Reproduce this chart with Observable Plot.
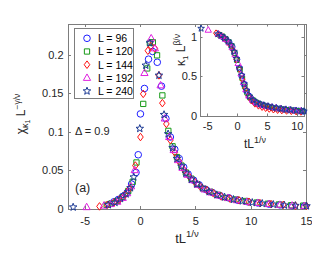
<!DOCTYPE html>
<html><head><meta charset="utf-8">
<script src="https://cdn.jsdelivr.net/npm/d3@7"></script>
<script src="https://cdn.jsdelivr.net/npm/@observablehq/plot@0.6"></script>
<style>
body{margin:0;background:#fff;}
#wrap{position:relative;width:312px;height:259px;}
</style></head><body><div id="wrap"></div>
<script>
// ---------- data ----------
const seriesLabels = ["L = 96", "L = 120", "L = 144", "L = 192", "L = 240"];

// main panel: chi * L^(-gamma/nu) vs t L^(1/nu)
const x96 = [-2.4,-2.0,-1.6,-1.2,-0.8,-0.4,-0.2,0.0,0.36,0.73,1.1,1.52,1.9,2.3,2.7,3.1,3.5,3.9,4.3,4.8,5.3,5.9,6.5,7.2,8.0,8.8,9.7,10.6,11.6,12.6,13.7,14.8];
const y96 = [0.010,0.013,0.017,0.022,0.033,0.048,0.071,0.124,0.157,0.195,0.205,0.191,0.160,0.118,0.094,0.078,0.066,0.055,0.046,0.038,0.032,0.026,0.022,0.018,0.015,0.012,0.010,0.0085,0.007,0.006,0.005,0.0045];
const x120 = [-3.05,-2.6,-2.1,-1.6,-1.1,-0.7,-0.36,0.25,0.61,0.85,1.12,1.5,1.98,2.52,2.9,3.3,3.7,4.1,4.6,5.1,5.7,6.3,7.0,7.8,8.6,9.5,10.5,11.5,12.5,13.6,14.7];
const y120 = [0.006,0.008,0.011,0.016,0.024,0.036,0.061,0.137,0.183,0.216,0.217,0.200,0.148,0.102,0.082,0.068,0.057,0.048,0.040,0.033,0.027,0.023,0.019,0.015,0.013,0.011,0.009,0.0075,0.0065,0.0055,0.005];
const x144 = [-3.7,-3.0,-2.4,-1.9,-1.4,-1.0,-0.46,0.0,0.25,0.67,0.95,1.3,1.67,1.98,2.34,2.7,3.1,3.5,3.95,4.4,4.9,5.4,6.0,6.6,7.3,8.1,8.9,9.8,10.8,11.8,12.9,14.0,15.0];
const y144 = [0.004,0.006,0.009,0.013,0.019,0.027,0.057,0.094,0.150,0.206,0.212,0.209,0.174,0.138,0.111,0.090,0.074,0.062,0.051,0.043,0.036,0.030,0.025,0.021,0.017,0.014,0.012,0.010,0.0082,0.007,0.006,0.005,0.0045];
const x192 = [-4.86,-3.3,-2.7,-2.1,-1.6,-1.2,-0.85,-0.52,0.36,0.97,1.3,1.82,2.2,2.6,3.0,3.4,3.8,4.25,4.7,5.2,5.8,6.4,7.1,7.9,8.7,9.6,10.6,11.6,12.6,13.7,14.8];
const y192 = [0.003,0.005,0.007,0.010,0.015,0.021,0.030,0.051,0.177,0.222,0.209,0.161,0.118,0.094,0.077,0.064,0.054,0.045,0.038,0.032,0.026,0.022,0.018,0.015,0.012,0.010,0.0085,0.007,0.006,0.005,0.0045];
const x240 = [-6.08,-2.9,-2.3,-1.8,-1.3,-0.9,-0.6,-0.06,0.48,0.85,1.67,2.13,2.5,2.9,3.3,3.7,4.1,4.6,5.1,5.6,6.2,6.9,7.6,8.4,9.2,10.1,11.0,12.0,13.0,14.0,15.0];
const y240 = [0.003,0.006,0.009,0.014,0.020,0.028,0.042,0.105,0.187,0.216,0.174,0.123,0.098,0.080,0.066,0.056,0.047,0.039,0.033,0.028,0.023,0.019,0.016,0.013,0.011,0.009,0.0078,0.0065,0.0055,0.005,0.0045];

// inset: kappa_1 * L^(beta/nu) vs t L^(1/nu)
const ix96 = [-2.4,-1.9,-1.4,-0.9,-0.5,-0.1,0.3,0.7,1.1,1.5,1.9,2.4,2.9,3.4,3.9,4.5,5.1,5.7,6.4,7.1,7.8,8.6,9.4,10.2,11.0];
const iy96 = [1.00,0.97,0.935,0.88,0.80,0.72,0.61,0.51,0.41,0.32,0.26,0.215,0.185,0.165,0.15,0.137,0.126,0.116,0.106,0.097,0.090,0.083,0.077,0.071,0.066];
const ix120 = [-3.0,-2.5,-2.0,-1.5,-1.0,-0.5,-0.1,0.4,0.8,1.2,1.6,2.1,2.6,3.1,3.6,4.2,4.8,5.4,6.1,6.8,7.5,8.3,9.1,10.0,10.9];
const iy120 = [1.03,1.01,0.98,0.94,0.89,0.80,0.71,0.59,0.48,0.38,0.30,0.24,0.205,0.178,0.158,0.143,0.130,0.119,0.108,0.099,0.091,0.084,0.078,0.072,0.066];
const ix144 = [-3.6,-3.0,-2.4,-1.8,-1.2,-0.7,-0.2,0.3,0.8,1.3,1.8,2.3,2.9,3.5,4.1,4.7,5.3,6.0,6.7,7.4,8.2,9.0,9.8,10.6];
const iy144 = [1.05,1.03,1.00,0.96,0.90,0.83,0.72,0.60,0.47,0.35,0.26,0.20,0.16,0.135,0.118,0.105,0.095,0.086,0.080,0.075,0.070,0.066,0.062,0.058];
const ix192 = [-4.9,-3.2,-2.6,-2.0,-1.4,-0.9,-0.4,0.1,0.6,1.0,1.4,1.9,2.5,3.1,3.7,4.3,5.0,5.7,6.4,7.2,8.0,8.8,9.7,10.6];
const iy192 = [1.09,1.04,1.01,0.975,0.93,0.87,0.78,0.67,0.54,0.43,0.34,0.26,0.21,0.178,0.156,0.141,0.128,0.117,0.107,0.097,0.089,0.082,0.076,0.070];
const ix240 = [-6.1,-3.3,-2.8,-2.2,-1.6,-1.1,-0.6,-0.2,0.3,0.7,1.1,1.5,2.0,2.6,3.2,3.8,4.4,5.1,5.8,6.5,7.3,8.1,8.9,9.8,10.7,11.1];
const iy240 = [1.11,1.04,1.02,0.99,0.95,0.90,0.82,0.73,0.61,0.52,0.41,0.33,0.255,0.205,0.175,0.155,0.142,0.13,0.118,0.108,0.098,0.09,0.083,0.076,0.07,0.066];

const mainXTicks = [-5, 0, 5, 10, 15];
const mainYTicks = [0, 0.05, 0.1, 0.15, 0.2];
const insetXTicks = [-5, 0, 5, 10];
const insetYTicks = [0, 0.5, 1];

// ---------- styles ----------
const FONT = '"Liberation Sans", Arial, Helvetica, sans-serif';
const AX = "#7d7d7d", TXT = "#262626";
const colors = ["#1f1fff", "#169a16", "#ff1010", "#e020e0", "#1c3a94"];

function mk(fn){ return {draw(ctx, size){ const r = Math.sqrt(size/Math.PI); fn(ctx, r); }}; }
const symCircle = mk((c,r)=>{ c.moveTo(r,0); c.arc(0,0,r,0,2*Math.PI); });
const symSquare = mk((c,r)=>{ const s=0.8*r; c.moveTo(-s,-s); c.lineTo(s,-s); c.lineTo(s,s); c.lineTo(-s,s); c.closePath(); });
const symDiamond = mk((c,r)=>{ const w=0.85*r, h=1.15*r; c.moveTo(0,-h); c.lineTo(w,0); c.lineTo(0,h); c.lineTo(-w,0); c.closePath(); });
const symTriangle = mk((c,r)=>{ const w=1.1*r; c.moveTo(0,-1.2*r); c.lineTo(w,0.75*r); c.lineTo(-w,0.75*r); c.closePath(); });
const symStar = mk((c,r)=>{ const R=1.2*r, ri=0.5*r; for(let k=0;k<10;k++){ const a=-Math.PI/2+k*Math.PI/5, rr=(k%2)?ri:R; const px=rr*Math.cos(a), py=rr*Math.sin(a); if(k===0)c.moveTo(px,py); else c.lineTo(px,py);} c.closePath(); });
const symbols = [symCircle, symSquare, symDiamond, symTriangle, symStar];

const mainX = [x96,x120,x144,x192,x240], mainY = [y96,y120,y144,y192,y240];
const insX = [ix96,ix120,ix144,ix192,ix240], insY = [iy96,iy120,iy144,iy192,iy240];
const rows = (xs, ys) => xs.map((x,i)=>({x, y: ys[i]}));

const R_MAIN = 3.3, R_INS = 2.9;

const main = Plot.plot({
  width: 312, height: 259,
  marginLeft: 68, marginRight: 6, marginTop: 24, marginBottom: 50,
  style: {fontFamily: FONT, fontSize: "11px", color: TXT, background: "transparent"},
  x: {domain: [-6.5, 15]},
  y: {domain: [0, 0.24]},
  marks: [
    Plot.frame({stroke: AX}),
    Plot.axisX(mainXTicks, {tickSize: 0, tickPadding: 8, label: null, tickFormat: d => String(d), fill: TXT}),
    Plot.axisY(mainYTicks, {tickSize: 0, tickPadding: 5, label: null, tickFormat: d => String(d), fill: TXT}),
    ...mainX.map((xs,k)=>Plot.dot(rows(xs, mainY[k]), {x:"x", y:"y", r:R_MAIN, symbol:symbols[k], stroke:colors[k], strokeWidth:1, fill:"none"}))
  ]
});

const inset = Plot.plot({
  width: 140, height: 132,
  marginLeft: 30, marginRight: 6, marginTop: 10, marginBottom: 30,
  style: {fontFamily: FONT, fontSize: "11px", color: TXT, background: "transparent"},
  x: {domain: [-6.2, 11.2]},
  y: {domain: [0, 1.16]},
  marks: [
    Plot.frame({stroke: AX, fill: "white"}),
    Plot.axisX(insetXTicks, {tickSize: 0, tickPadding: 6, label: null, tickFormat: d => String(d), fill: TXT}),
    Plot.axisY(insetYTicks, {tickSize: 0, tickPadding: 3.5, label: null, tickFormat: d => String(d), fill: TXT}),
    ...insX.map((xs,k)=>Plot.dot(rows(xs, insY[k]), {x:"x", y:"y", r:R_INS, symbol:symbols[k], stroke:colors[k], strokeWidth:1, fill:"none"}))
  ]
});

// inner ticks on all four sides, placed by each plot's own scales
function innerTicks(plot, xt, yt, L, R, T, B, len){
  const sx = plot.scale("x"), sy = plot.scale("y");
  const g = d3.select(plot).append("g").attr("stroke", AX).attr("stroke-width", 1);
  xt.forEach(v=>{ const px = Math.round(sx.apply(v))+0.5;
    g.append("line").attr("x1",px).attr("x2",px).attr("y1",B).attr("y2",B-len);
    g.append("line").attr("x1",px).attr("x2",px).attr("y1",T).attr("y2",T+len); });
  yt.forEach(v=>{ const py = Math.round(sy.apply(v))+0.5;
    g.append("line").attr("y1",py).attr("y2",py).attr("x1",L).attr("x2",L+len);
    g.append("line").attr("y1",py).attr("y2",py).attr("x1",R).attr("x2",R-len); });
}
innerTicks(main, mainXTicks, mainYTicks, 68, 306, 24, 209, 3);
innerTicks(inset, insetXTicks, insetYTicks, 30, 134, 10, 102, 2.5);

const svg = d3.select(main);
svg.style("display","block");
// nest inset at a fixed box inside the main svg
d3.select(inset).attr("x", 170).attr("y", 14)
  .style("max-width", null).style("height", "132px").style("width", "140px").style("overflow","visible");
main.appendChild(inset);

// rich-text helper
function rich(sel, parts){
  parts.forEach(p=>{ const t = sel.append("tspan").text(p.t); if(p.dy) t.attr("dy", p.dy); if(p.fs) t.attr("font-size", p.fs); });
}
const lab = svg.append("g").attr("font-family", FONT).attr("fill", TXT);

// main y label
rich(lab.append("text").attr("transform","translate(25,114) rotate(-90)").attr("text-anchor","middle").attr("font-size", 12),
  [{t:"χ"},{t:"κ",dy:3,fs:9},{t:"1",dy:2,fs:7},{t:" L",dy:-5,fs:12},{t:"−γ/ν",dy:-5,fs:8.5}]);
// main x label
rich(lab.append("text").attr("x",187).attr("y",243).attr("text-anchor","middle").attr("font-size", 13),
  [{t:"tL"},{t:"1/ν",dy:-6,fs:9.5}]);
// inset y label
rich(lab.append("text").attr("transform","translate(185,50) rotate(-90)").attr("text-anchor","middle").attr("font-size", 12),
  [{t:"κ"},{t:"1",dy:3,fs:8},{t:" L",dy:-3,fs:12},{t:"β/ν",dy:-5,fs:8.5}]);
// inset x label
rich(lab.append("text").attr("x",255).attr("y",148).attr("text-anchor","middle").attr("font-size", 12),
  [{t:"tL"},{t:"1/ν",dy:-5,fs:9}]);

// annotations
lab.append("text").attr("x",75).attr("y",135).attr("text-anchor","start").attr("font-size",11).text("Δ = 0.9");
lab.append("text").attr("x",75).attr("y",192).attr("text-anchor","start").attr("font-size",12.5).text("(a)");

// legend
const leg = svg.append("g");
leg.append("rect").attr("x",74.5).attr("y",28.5).attr("width",59).attr("height",70).attr("fill","white").attr("stroke",AX);
seriesLabels.forEach((s,k)=>{
  const cy = 38.3 + k*13.2;
  leg.append("path").attr("d", d3.symbol(symbols[k], Math.PI*R_MAIN*R_MAIN)()).attr("transform",`translate(87,${cy})`)
     .attr("fill","none").attr("stroke",colors[k]).attr("stroke-width",1);
  leg.append("text").attr("x",98).attr("y",cy+3.8).attr("text-anchor","start").attr("font-family",FONT).attr("font-size",10.5).attr("fill","#000").text(s);
});

document.getElementById("wrap").appendChild(main);
</script>
</body></html>
